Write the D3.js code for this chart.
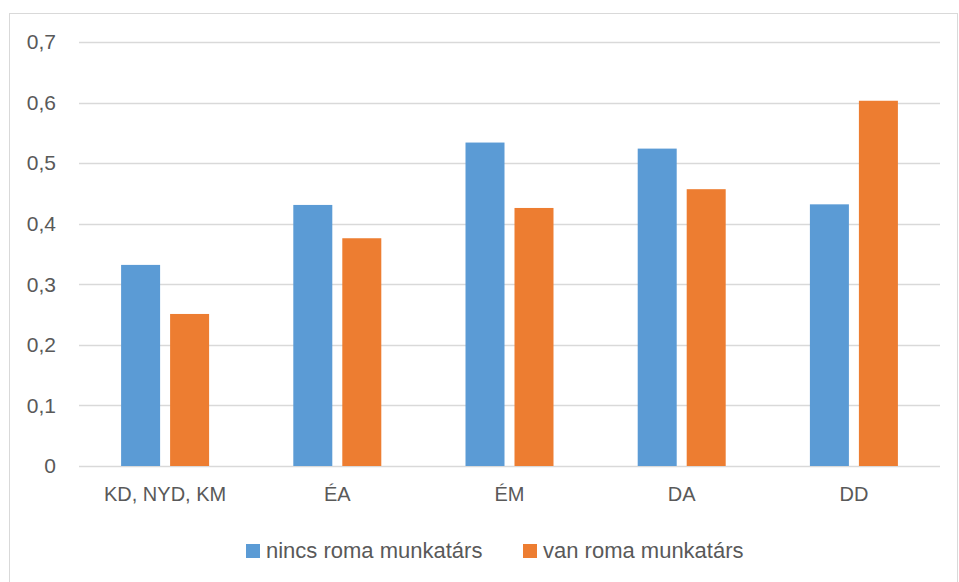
<!DOCTYPE html>
<html>
<head>
<meta charset="utf-8">
<script src="https://cdn.jsdelivr.net/npm/d3@7"></script>
<style>
  body { margin: 0; background: #fff; }
  svg { display: block; }
  text { font-family: "Liberation Sans", Arial, sans-serif; fill: #595959; }
</style>
</head>
<body>
<svg id="chart" width="959" height="582"></svg>
<script>
const categories = ["KD, NYD, KM", "ÉA", "ÉM", "DA", "DD"];
const seriesNames = ["nincs roma munkatárs", "van roma munkatárs"];
const nincs = [0.332, 0.431, 0.534, 0.524, 0.432];
const van = [0.251, 0.376, 0.426, 0.457, 0.603];
const yTicks = [0, 0.1, 0.2, 0.3, 0.4, 0.5, 0.6, 0.7];
const colors = ["#5b9bd5", "#ed7d31"];

const svg = d3.select("#chart");
const FONT = '"Liberation Sans", Arial, sans-serif';

// outer frame
svg.append("rect").attr("x", 9.5).attr("y", 13.5).attr("width", 948).attr("height", 580)
  .attr("fill", "#fff").attr("stroke", "#d9d9d9").attr("stroke-width", 1);

const mLeft = 79, mRight = 940, mTop = 42, mBottom = 466;

const y = d3.scaleLinear().domain([0, 0.7]).range([mBottom, mTop]);
const x0 = d3.scaleBand().domain(categories).range([mLeft, mRight]).paddingInner(0.489).paddingOuter(0.2445);
const x1 = d3.scaleBand().domain(seriesNames).range([0, x0.bandwidth()]).paddingInner(0.204);

// gridlines
svg.append("g").selectAll("line").data(yTicks).join("line")
  .attr("x1", mLeft).attr("x2", mRight)
  .attr("y1", d => Math.round(y(d)) + 0.5).attr("y2", d => Math.round(y(d)) + 0.5)
  .attr("stroke", "#d9d9d9").attr("stroke-width", 1.3);

// y axis labels
const fmt = d => d === 0 ? "0" : d3.format(".1f")(d).replace(".", ",");
const yAxis = d3.axisLeft(y).tickValues(yTicks).tickFormat(fmt).tickSize(0).tickPadding(0);
const gy = svg.append("g").attr("transform", `translate(56,0)`).call(yAxis);
gy.select(".domain").remove();
gy.selectAll("text").attr("font-size", 21).attr("fill", "#595959").style("font-family", FONT);

// bars
const data = categories.map((c, i) => ({ cat: c, vals: [nincs[i], van[i]] }));
const groups = svg.append("g").selectAll("g").data(data).join("g")
  .attr("transform", d => `translate(${x0(d.cat)},0)`);
groups.selectAll("rect").data(d => d.vals.map((v, j) => ({ s: seriesNames[j], v, j })))
  .join("rect")
  .attr("x", d => x1(d.s)).attr("width", x1.bandwidth())
  .attr("y", d => y(d.v)).attr("height", d => y(0) - y(d.v))
  .attr("fill", d => colors[d.j]);

// x axis labels
const xAxis = d3.axisBottom(x0).tickSize(0).tickPadding(0);
const gx = svg.append("g").attr("transform", `translate(0,${mBottom})`).call(xAxis);
gx.select(".domain").remove();
gx.selectAll("text").attr("font-size", 20).attr("fill", "#595959").attr("dy", null).attr("y", 35)
  .style("font-family", FONT);

// legend
const legendX = [246, 523];
const lg = svg.append("g").selectAll("g").data(seriesNames).join("g")
  .attr("transform", (d, i) => `translate(${legendX[i]},544)`);
lg.append("rect").attr("width", 14).attr("height", 14).attr("fill", (d, i) => colors[i]);
lg.append("text").attr("x", 20).attr("y", 14).attr("font-size", 22).style("font-family", FONT).text(d => d);
</script>
</body>
</html>
